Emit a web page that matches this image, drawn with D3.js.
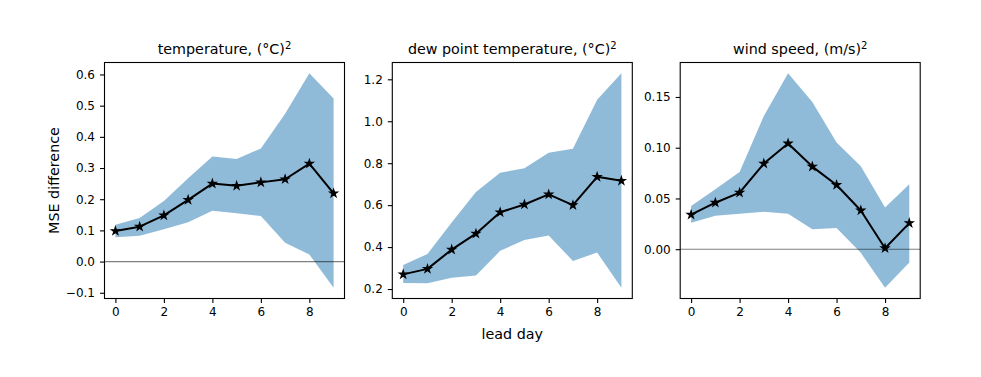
<!DOCTYPE html>
<html>
<head>
<meta charset="utf-8">
<script src="https://cdn.jsdelivr.net/npm/d3@7"></script>
<style>
body{margin:0;background:#fff;}
svg{display:block;}
text{font-family:"DejaVu Sans",sans-serif;fill:#000;}
</style>
</head>
<body>
<svg id="chart" width="981" height="377"></svg>
<script>
const leadDays = [0,1,2,3,4,5,6,7,8,9];
const xTicks = [0,2,4,6,8];

const tempMean  = [0.098,0.112,0.148,0.198,0.250,0.243,0.254,0.264,0.314,0.219];
const tempUpper = [0.118,0.140,0.194,0.267,0.337,0.329,0.363,0.474,0.604,0.523];
const tempLower = [0.078,0.083,0.104,0.126,0.163,0.155,0.146,0.060,0.023,-0.084];
const tempTicks = [-0.1,0.0,0.1,0.2,0.3,0.4,0.5,0.6];

const dewMean  = [0.270,0.296,0.388,0.464,0.566,0.603,0.651,0.600,0.735,0.716];
const dewUpper = [0.315,0.367,0.517,0.663,0.754,0.776,0.850,0.869,1.103,1.229];
const dewLower = [0.229,0.227,0.254,0.264,0.382,0.434,0.455,0.334,0.374,0.206];
const dewTicks = [0.2,0.4,0.6,0.8,1.0,1.2];

const windMean  = [0.034,0.0458,0.0557,0.0844,0.1042,0.0814,0.0633,0.0382,0.001,0.0257];
const windUpper = [0.0425,0.059,0.0761,0.1312,0.1734,0.145,0.1052,0.0817,0.041,0.064];
const windLower = [0.026,0.033,0.035,0.037,0.035,0.0197,0.021,-0.0036,-0.038,-0.013];
const windTicks = [0.00,0.05,0.10,0.15];

const titles = ["temperature, (°C)", "dew point temperature, (°C)", "wind speed, (m/s)"];
const yLabel = "MSE difference";
const xLabel = "lead day";

const panels = [
  {title: titles[0], mean: tempMean, upper: tempUpper, lower: tempLower, ticks: tempTicks, fmt: ".1f", zero: true},
  {title: titles[1], mean: dewMean, upper: dewUpper, lower: dewLower, ticks: dewTicks, fmt: ".1f", zero: false},
  {title: titles[2], mean: windMean, upper: windUpper, lower: windLower, ticks: windTicks, fmt: ".2f", zero: true}
];

const svg = d3.select("#chart");
const lefts = [104.5, 392.3, 680.2];
const W = 240, axTop = 62.5, axBottom = 298.5;
const tickLen = 4.5, pad = 4.5;

function fmtMinus(f){ return v => d3.format(f)(v).replace("-", "\u2212"); }

panels.forEach((p, i) => {
  const L = lefts[i], R = L + W;
  const x = d3.scaleLinear().domain([-0.45, 9.45]).range([L, R]);
  const lo = d3.min(p.lower), hi = d3.max(p.upper), m = (hi - lo) * 0.05;
  const y = d3.scaleLinear().domain([lo - m, hi + m]).range([axBottom, axTop]);

  const g = svg.append("g");

  const area = d3.area().x((d, j) => x(leadDays[j])).y0((d, j) => y(p.lower[j])).y1((d, j) => y(p.upper[j]));
  g.append("path").datum(leadDays).attr("d", area)
    .attr("fill", "#1f77b4").attr("fill-opacity", 0.5).attr("stroke", "none");

  if (p.zero) {
    g.append("line").attr("x1", L).attr("x2", R).attr("y1", y(0)).attr("y2", y(0))
      .attr("stroke", "#000").attr("stroke-opacity", 0.5).attr("stroke-width", 1.1);
  }

  const line = d3.line().x((d, j) => x(leadDays[j])).y(d => y(d));
  g.append("path").datum(p.mean).attr("d", line)
    .attr("fill", "none").attr("stroke", "#000").attr("stroke-width", 2.0).attr("stroke-linejoin", "round");

  const star = d3.symbol().type(d3.symbolStar).size(20);
  g.selectAll(".mk").data(p.mean).join("path")
    .attr("d", star).attr("transform", (d, j) => `translate(${x(leadDays[j])},${y(d)})`)
    .attr("fill", "#000").attr("stroke", "#000").attr("stroke-width", 1.1).attr("stroke-linejoin", "miter");

  const xa = d3.axisBottom(x).tickValues(xTicks).tickFormat(d3.format("d")).tickSize(tickLen).tickPadding(pad - 0.5);
  const ya = d3.axisLeft(y).tickValues(p.ticks).tickFormat(fmtMinus(p.fmt)).tickSize(tickLen).tickPadding(pad + 0.5);
  const gx = g.append("g").attr("transform", `translate(0,${axBottom})`).call(xa);
  const gy = g.append("g").attr("transform", `translate(${L},0)`).call(ya);
  [gx, gy].forEach(a => {
    a.select(".domain").remove();
    a.selectAll("line").attr("stroke", "#000").attr("stroke-width", 1.1);
    a.selectAll("text").attr("font-size", "12px").attr("fill", "#000");
  });

  g.append("rect").attr("x", L).attr("y", axTop).attr("width", W).attr("height", axBottom - axTop)
    .attr("fill", "none").attr("stroke", "#000").attr("stroke-width", 1.1);

  const t = g.append("text").attr("x", (L + R) / 2).attr("y", 54).attr("text-anchor", "middle")
    .attr("font-size", "14.3px");
  t.append("tspan").text(p.title);
  t.append("tspan").attr("dy", -5.5).attr("font-size", "10px").text("2");
});

svg.append("text").attr("transform", `translate(59,${(axTop + axBottom) / 2}) rotate(-90)`)
  .attr("text-anchor", "middle").attr("font-size", "14.3px").text(yLabel);
svg.append("text").attr("x", lefts[1] + W / 2).attr("y", 338.5).attr("text-anchor", "middle")
  .attr("font-size", "14.3px").text(xLabel);
</script>
</body>
</html>
